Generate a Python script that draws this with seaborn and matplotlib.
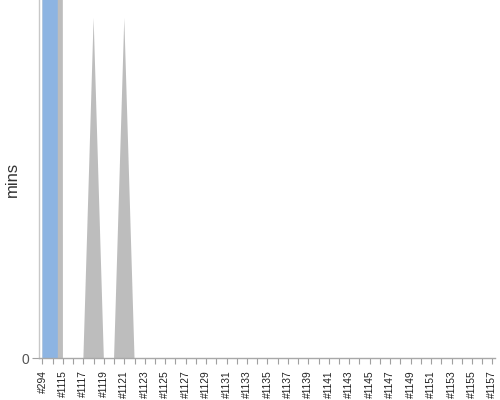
import numpy as np
import pandas as pd
import matplotlib
matplotlib.use("Agg")
import matplotlib.pyplot as plt
import seaborn as sns

# build labels: the old #294 build, then the run #1114 .. #1157
builds = ["#294"] + ["#%d" % n for n in range(1114, 1158)]

# minutes per build, two series (blue drawn over grey)
blue_mins = [6000, 6000, -6000, 0, 0, 0, 0, 0, 0, 0,
             0, 0, 0, 0, 0, 0, 0, 0, 0, 0,
             0, 0, 0, 0, 0, 0, 0, 0, 0, 0,
             0, 0, 0, 0, 0, 0, 0, 0, 0, 0,
             0, 0, 0, 0, 0]
grey_mins = [6000, 6000, 0, 0, 0, 57, 0, 0, 57, 0,
             0, 0, 0, 0, 0, 0, 0, 0, 0, 0,
             0, 0, 0, 0, 0, 0, 0, 0, 0, 0,
             0, 0, 0, 0, 0, 0, 0, 0, 0, 0,
             0, 0, 0, 0, 0]


def main():
    sns.set_theme(style="white")
    plt.rcParams["font.family"] = ["Liberation Sans", "DejaVu Sans"]

    df = pd.DataFrame({
        "pos": np.arange(len(builds)),
        "build": builds,
        "blue": blue_mins,
        "grey": grey_mins,
    })

    fig = plt.figure(figsize=(5, 4), dpi=100)
    ax = fig.add_axes([0.078, 0.105, 0.912, 0.895])

    sns.lineplot(data=df, x="pos", y="grey", ax=ax, color="#bdbdbd", linewidth=0)
    sns.lineplot(data=df, x="pos", y="blue", ax=ax, color="#8db4e2", linewidth=0)
    ax.fill_between(df["pos"], 0, df["grey"], color="#bdbdbd", linewidth=0, zorder=1)
    ax.fill_between(df["pos"], 0, df["blue"], color="#8db4e2", linewidth=0, zorder=2)

    ax.set_xlim(-0.34, 44.25)
    ax.set_ylim(0, 60)

    ax.set_xticks(df["pos"][::2])
    ax.set_xticklabels(df["build"][::2], rotation=90, fontsize=7.4, color="#222222")
    ax.set_xticks(df["pos"][1::2], minor=True)
    ax.tick_params(axis="x", which="both", bottom=True, length=4, width=0.8,
                   color="#a0a0a0", pad=5)
    ax.set_yticks([0])
    ax.set_yticklabels(["0"], fontsize=10, color="#555555")
    ax.tick_params(axis="y", left=True, length=5, width=0.8, color="#a0a0a0", pad=2)

    ax.set_xlabel("")
    ax.set_ylabel("mins", fontsize=12, color="#333333")
    ax.yaxis.set_label_coords(-0.042, 0.5)

    sns.despine(ax=ax, top=True, right=True)
    ax.spines["left"].set_color("#c8c8c8")
    ax.spines["bottom"].set_color("#a8a8a8")
    ax.spines["left"].set_linewidth(1.0)
    ax.spines["bottom"].set_linewidth(1.0)
    ax.grid(False)

    fig.savefig("out.png", dpi=100)


if __name__ == '__main__':
    main()
